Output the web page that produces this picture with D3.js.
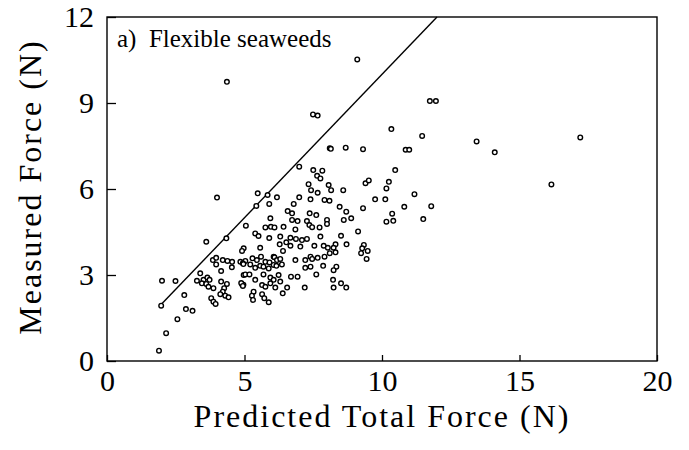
<!DOCTYPE html>
<html>
<head>
<meta charset="utf-8">
<script src="https://cdn.jsdelivr.net/npm/d3@7"></script>
<style>
  body { margin: 0; background: #fff; }
  svg { display: block; }
</style>
</head>
<body>
<div id="container"></div>
<script>
// data: predicted total force vs measured force (N)
var predicted = [1.89,2.15,2.56,2.87,3.11,1.97,2.00,2.49,2.81,3.61,4.34,4.00,4.36,9.10,11.74,11.96,7.49,7.66,10.34,11.46,
  13.44,14.10,17.21,16.16,8.10,8.14,8.68,9.31,10.86,10.99,10.48,9.40,9.52,10.25,10.16,11.18,9.75,10.12,10.81,11.79,
  9.31,10.37,10.16,10.41,11.50,9.13,8.51,8.71,9.34,9.28,9.48,9.24,9.44,8.59,8.15,8.46,8.70,8.61,8.88,8.31,
  8.24,8.31,8.34,8.24,8.22,8.24,8.51,8.70,6.99,7.50,7.83,7.64,7.76,7.33,8.06,7.42,7.66,5.48,5.84,6.18,
  6.99,7.40,7.91,8.09,5.43,5.90,6.79,6.57,6.73,7.37,7.61,5.94,6.73,6.93,7.27,7.36,7.46,8.00,8.00,5.05,
  5.76,5.96,6.09,6.42,6.85,7.73,5.39,5.51,5.90,6.30,6.67,6.87,7.09,7.27,7.76,4.97,4.91,5.57,6.28,6.52,
  6.67,7.03,7.54,7.88,8.03,6.40,4.85,5.03,5.29,5.45,5.60,5.76,5.91,6.06,6.09,6.18,6.30,6.85,7.21,7.40,
  7.46,7.66,7.91,8.10,3.85,3.97,4.21,4.38,4.55,4.54,3.97,4.94,4.96,4.15,4.97,5.21,5.39,5.57,5.69,5.88,
  6.06,6.16,6.36,7.21,7.40,7.86,5.03,5.18,5.39,5.69,5.94,6.24,6.06,6.69,6.93,7.61,4.91,4.96,4.88,4.94,
  5.64,5.76,5.94,6.12,6.30,6.55,7.19,5.33,5.27,5.31,5.64,5.72,5.88,6.39,3.39,3.27,3.51,3.65,3.73,3.45,
  3.61,3.69,3.87,4.15,4.36,4.26,4.21,4.12,4.30,4.42,3.79,3.87,3.95]
var measured = [0.36,0.97,1.46,1.81,1.75,1.93,2.80,2.79,2.30,4.16,4.28,5.70,9.74,10.52,9.07,9.07,8.60,8.56,8.09,7.85,
  7.66,7.28,7.80,6.16,7.42,7.40,7.44,7.39,7.37,7.37,6.66,6.20,6.30,6.25,6.02,5.82,5.64,5.64,5.38,5.40,
  5.33,5.14,4.86,4.89,4.95,4.52,4.37,4.07,4.05,3.93,3.84,3.76,3.56,5.96,5.96,5.38,5.21,4.92,4.98,4.07,
  3.95,3.79,3.29,3.17,2.83,2.56,2.71,2.56,6.78,6.66,6.64,6.46,6.37,6.17,6.14,5.96,5.87,5.85,5.79,5.71,
  5.71,5.64,5.62,5.59,5.41,5.48,5.48,5.23,5.15,5.15,5.09,4.98,4.92,4.88,4.88,4.74,4.67,4.92,4.78,4.72,
  4.66,4.68,4.66,4.68,4.59,4.66,4.45,4.36,4.29,4.34,4.30,4.26,4.22,4.26,4.34,3.93,3.84,3.95,4.07,4.14,
  4.02,3.99,4.02,4.02,3.95,3.84,3.46,3.49,3.58,3.52,3.64,3.46,3.44,3.64,3.62,3.52,3.56,3.52,3.52,3.64,
  3.56,3.60,3.64,3.76,3.52,3.60,3.52,3.49,3.46,3.27,3.37,3.41,3.38,3.14,3.00,3.37,3.25,3.32,3.29,3.23,
  3.35,3.32,3.37,3.25,3.29,3.32,3.02,3.02,2.83,3.02,2.91,3.00,2.83,2.94,2.94,3.02,2.68,2.66,2.72,2.62,
  2.65,2.59,2.71,2.56,2.77,2.56,2.56,2.42,2.28,2.13,2.33,2.19,2.05,2.36,3.06,2.80,2.83,2.91,2.83,2.71,
  2.69,2.59,2.54,2.77,2.69,2.54,2.42,2.33,2.28,2.22,2.19,2.07,1.99]

var xTicks = [0, 5, 10, 15, 20]
var yTicks = [0, 3, 6, 9, 12]
// 1:1 line
var lineEnds = [1.95, 12]

var width = 689, height = 450
var margin = {left: 107, right: 32, top: 17, bottom: 89}
var serif = "'Liberation Serif', 'Times New Roman', serif"

var svg = d3.select("div#container").append("svg")
  .attr("width", width)
  .attr("height", height)

var x = d3.scaleLinear().domain([0, 20]).range([margin.left, width - margin.right])
var y = d3.scaleLinear().domain([0, 12]).range([height - margin.bottom, margin.top])

// axes, ticks point inward
svg.append("g")
  .attr("transform", "translate(0," + y(0) + ")")
  .call(d3.axisBottom(x).tickValues(xTicks).tickSizeInner(-6).tickSizeOuter(0).tickPadding(9))
  .call(g => g.select(".domain").remove())
  .selectAll("text").style("font-size", "30px").style("font-family", serif).attr("fill", "#000")

svg.append("g")
  .attr("transform", "translate(" + x(0) + ",0)")
  .call(d3.axisLeft(y).tickValues(yTicks).tickSizeInner(-9).tickSizeOuter(0).tickPadding(13))
  .call(g => g.select(".domain").remove())
  .selectAll("text").style("font-size", "30px").style("font-family", serif).attr("fill", "#000")

svg.selectAll(".tick line").attr("stroke", "#000").attr("stroke-width", 1.3)

// frame
svg.append("rect")
  .attr("x", x(0)).attr("y", y(12))
  .attr("width", x(20) - x(0)).attr("height", y(0) - y(12))
  .attr("fill", "none").attr("stroke", "#000").attr("stroke-width", 1.4)

// 1:1 line
svg.append("line")
  .attr("x1", x(lineEnds[0])).attr("y1", y(lineEnds[0]))
  .attr("x2", x(lineEnds[1])).attr("y2", y(lineEnds[1]))
  .attr("stroke", "#000").attr("stroke-width", 1.4)

// points
svg.append("g").selectAll("circle")
  .data(d3.range(predicted.length))
  .enter().append("circle")
    .attr("cx", i => x(predicted[i]))
    .attr("cy", i => y(measured[i]))
    .attr("r", 2.3)
    .attr("fill", "#fff")
    .attr("stroke", "#000")
    .attr("stroke-width", 1.4)

// panel label
svg.append("text")
  .attr("x", 117).attr("y", 47)
  .style("font-family", serif)
  .style("font-size", "25px")
  .attr("xml:space", "preserve")
  .text("a)  Flexible seaweeds")

// axis titles
svg.append("text")
  .attr("x", (x(0) + x(20)) / 2).attr("y", 427)
  .attr("text-anchor", "middle")
  .style("font-family", serif)
  .style("font-size", "32px")
  .style("letter-spacing", "2px")
  .text("Predicted Total Force (N)")

svg.append("text")
  .attr("transform", "translate(41," + (y(6) - 2) + ") rotate(-90)")
  .attr("text-anchor", "middle")
  .style("font-family", serif)
  .style("font-size", "32px")
  .style("letter-spacing", "2px")
  .text("Measured Force (N)")
</script>
</body>
</html>
